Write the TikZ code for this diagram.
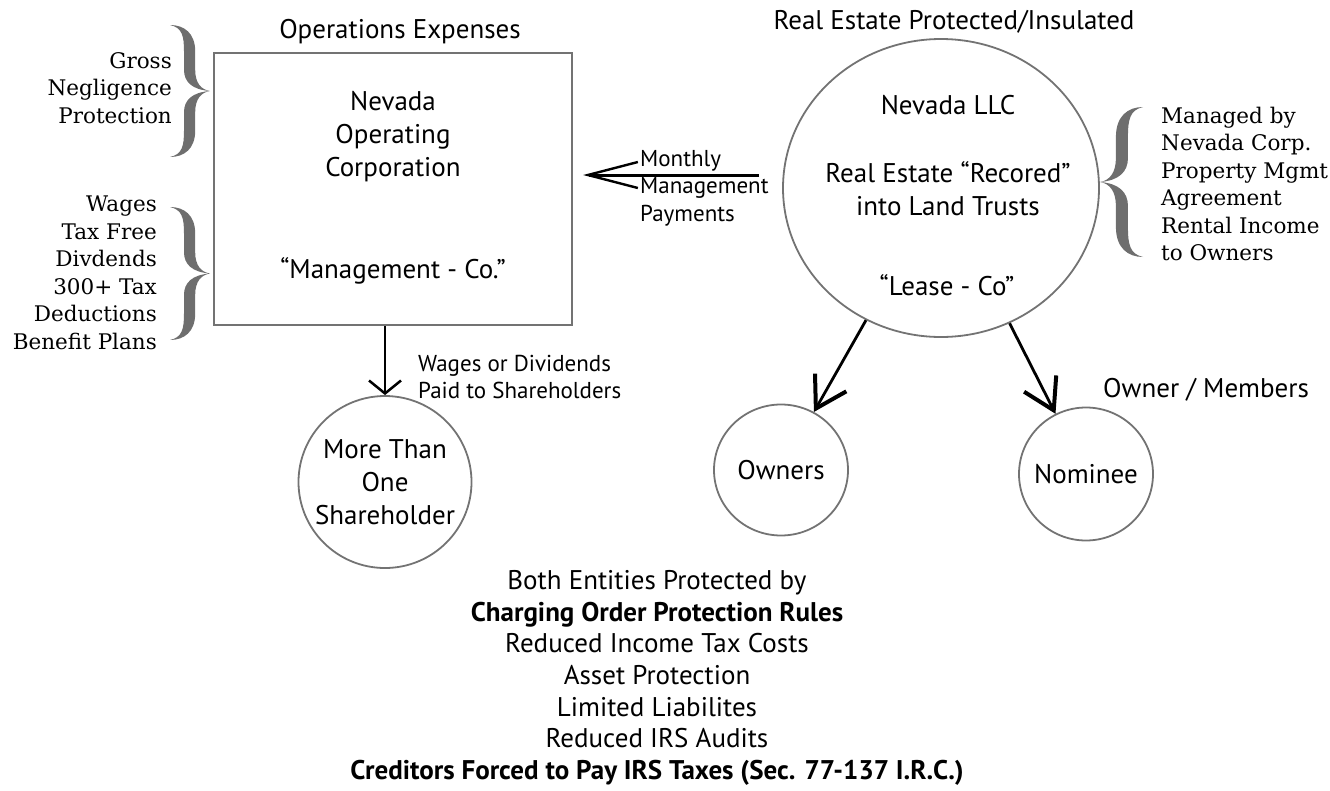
\documentclass[tikz,border=0pt]{standalone}
\usepackage{fontspec}
\setmainfont{PT Sans}
\newfontfamily\sidefont{DejaVu Serif}
\usepackage{tikz}
\usetikzlibrary{calc,arrows.meta,shapes.geometric}
\definecolor{ink}{HTML}{000000}
\definecolor{frame}{HTML}{737373}
\definecolor{bracegray}{HTML}{6E6E6E}
\tikzset{
  box/.style={draw=frame, line width=2.2pt, minimum width=358pt, minimum height=272pt, inner sep=0pt},
  blob/.style={draw=frame, line width=1.8pt, ellipse, inner sep=0pt},
  big/.style={font=\fontsize{27}{33}\selectfont, align=center, inner sep=0pt},
  small/.style={font=\fontsize{23}{27.5}\selectfont, align=left, inner sep=0pt},
  side/.style={font=\sidefont\fontsize{21.5}{27.5}\selectfont, inner sep=0pt},
  flow/.style={draw=ink, line width=2.5pt, -{Straight Barb[length=13pt,width=32pt]}},
  split/.style={draw=ink, line width=2.8pt, -{Straight Barb[length=30pt,width=36pt,line width=4pt]}},
  pay/.style={draw=ink, line width=3pt, -{Straight Barb[length=50pt,width=26pt,line width=2.4pt]}},
  curly/.pic={
    \fill[bracegray] (0,0) .. controls (0.35,0) and (0.63,0.06) .. (0.63,0.2)
      -- (0.63,0.34) .. controls (0.63,0.44) and (0.78,0.49) .. (1,0.5)
      .. controls (0.78,0.51) and (0.63,0.56) .. (0.63,0.66)
      -- (0.63,0.8) .. controls (0.63,0.94) and (0.35,1) .. (0,1)
      .. controls (0.3,0.98) and (0.35,0.92) .. (0.35,0.8)
      -- (0.35,0.66) .. controls (0.35,0.57) and (0.55,0.51) .. (1,0.5)
      .. controls (0.55,0.49) and (0.35,0.43) .. (0.35,0.34)
      -- (0.35,0.2) .. controls (0.35,0.08) and (0.3,0.02) .. (0,0) -- cycle;
  },
}
\begin{document}
\begin{tikzpicture}[x=1pt,y=-1pt]
  \useasboundingbox (0,0) rectangle (1330,790);
  \node[box] (opsbox) at (393,189) {};
  \node[big] (opstitle) at (400,32) {Operations Expenses};
  \node[big] (opsname) at (393,137) {Nevada\\Operating\\Corporation};
  \node[big] (opsnick) at (393,271) {“Management - Co.”};
  \node[blob, minimum width=316pt, minimum height=298pt] (llc) at (941,188) {};
  \node[big] (llctitle) at (954,22) {Real Estate Protected/Insulated};
  \node[big] (llcname) at (948,105) {Nevada LLC};
  \node[big] (llctrust) at (948,189) {Real Estate “Recored”\\into Land Trusts};
  \node[big] (llcnick) at (947,285) {“Lease - Co”};
  \node[blob, minimum width=173pt, minimum height=172pt] (share) at (385,482) {};
  \node[big] at (share) {More Than\\One\\Shareholder};
  \node[blob, minimum width=134pt, minimum height=131pt] (owners) at (781,470) {};
  \node[big] at (owners) {Owners};
  \node[blob, minimum width=134pt, minimum height=133pt] (nominee) at (1086,474) {};
  \node[big] at (nominee) {Nominee};
  \node[big, anchor=west] (members) at (1103,390) {Owner / Members};
  \node[small, anchor=west] (paylab) at (640,188) {Monthly\\Management\\Payments};
  \node[small, anchor=west] (wagelab) at (418,377) {Wages or Dividends\\Paid to Shareholders};
  \node[side, anchor=east, align=right] (gross) at (172,88) {Gross\\Negligence\\Protection};
  \node[side, anchor=east, align=right] (perks) at (157,273) {Wages\\Tax Free\\Divdends\\300+ Tax\\Deductions\\Benefit Plans};
  \node[side, anchor=west, align=left] (mgmt) at (1161,184) {Managed by\\Nevada Corp.\\Property Mgmt\\Agreement\\Rental Income\\to Owners};
  \pic[xscale=40, yscale=132] at (170,25) {curly};
  \pic[xscale=40, yscale=133] at (170,207) {curly};
  \pic[xscale=-43, yscale=150] at (1143,107) {curly};
  \path (llc.west) ++(0,-13) coordinate (payfrom);
  \draw[pay, shorten <=23pt, shorten >=10pt] (payfrom) -- (payfrom -| opsbox.east);
  \draw[flow] (opsbox.south -| share.north) -- (share.north);
  \draw[split] (llc) -- (owners);
  \draw[split] (llc) -- (nominee);
  \node[big, align=center, font=\fontsize{27}{31.7}\selectfont] (perkslist) at (657,678) {Both Entities Protected by\\\textbf{Charging Order Protection Rules}\\Reduced Income Tax Costs\\Asset Protection\\Limited Liabilites\\Reduced IRS Audits\\\textbf{Creditors Forced to Pay IRS Taxes (Sec. 77-137 I.R.C.)}};
\end{tikzpicture}
\end{document}
